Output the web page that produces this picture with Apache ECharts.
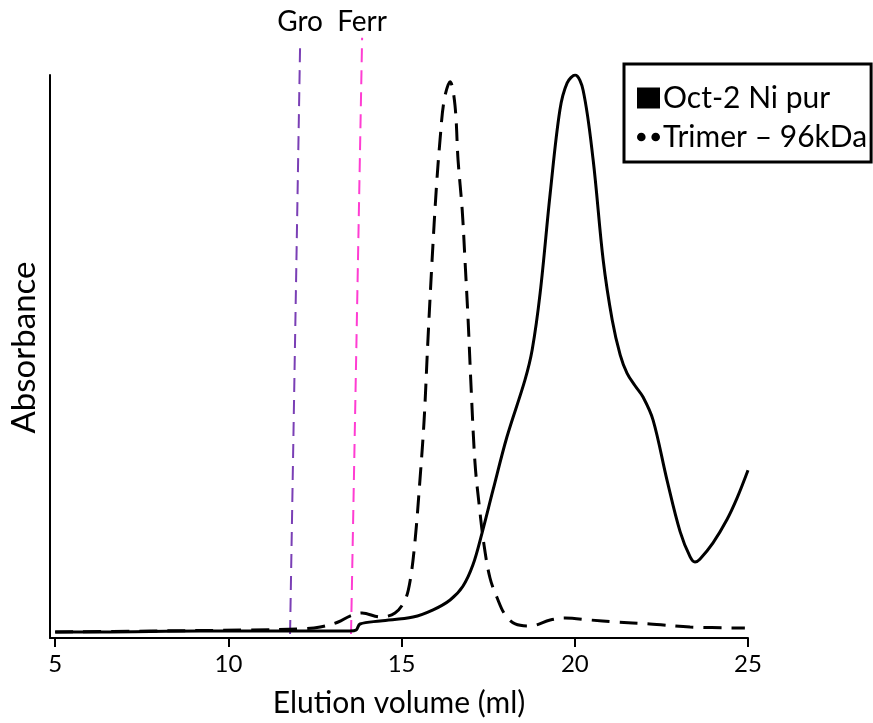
<!DOCTYPE html>
<html><head><meta charset="utf-8">
<script src="https://cdn.jsdelivr.net/npm/echarts@6/dist/echarts.min.js"></script>
<style>html,body{margin:0;padding:0;background:#fff}#c{width:873px;height:723px}</style>
</head><body><div id="c"></div>
<script>
const xTicks = [5, 10, 15, 20, 25];
const seriesNames = ['Oct-2 Ni pur', 'Trimer \u2013 96kDa'];
const octVolume = [5.0, 6.3, 9.18, 12.07, 13.51, 13.69, 13.8, 14.38, 15.33, 15.91, 16.4, 16.77, 17.06, 17.32, 17.64, 18.04, 18.56, 18.77, 19.0, 19.29, 19.57, 19.78, 20.01, 20.24, 20.53, 20.82, 21.08, 21.31, 21.51, 21.74, 21.97, 22.26, 22.66, 23.04, 23.33, 23.47, 23.61, 23.99, 24.39, 24.68, 25.0];
const octAbs = [1.07, 1.07, 1.24, 1.24, 1.24, 1.42, 2.49, 3.02, 3.73, 5.0, 6.75, 9.2, 13.0, 18.6, 26.3, 35.7, 45.8, 51.2, 61.3, 79.0, 93.8, 98.6, 100, 97.3, 84.9, 67.1, 56.5, 50.3, 47.0, 44.8, 42.8, 38.7, 28.1, 18.9, 14.4, 13.5, 14.0, 16.9, 21.0, 24.8, 29.8];
const trimerVolume = [5.0, 7.74, 10.63, 12.07, 12.65, 13.17, 13.51, 13.86, 14.38, 14.81, 15.1, 15.25, 15.39, 15.53, 15.65, 15.76, 15.88, 16.0, 16.11, 16.23, 16.4, 16.54, 16.63, 16.75, 16.83, 16.92, 17.01, 17.12, 17.24, 17.38, 17.55, 17.76, 17.99, 18.28, 18.71, 19.29, 19.72, 20.44, 21.16, 22.17, 23.33, 24.91];
const trimerAbs = [1.07, 1.24, 1.42, 1.6, 1.95, 2.84, 3.9, 4.44, 3.73, 4.44, 6.75, 10.3, 17.4, 28.1, 38.7, 52.9, 67.1, 79.6, 88.5, 95.6, 98.8, 94.7, 84.9, 76.0, 67.1, 56.5, 44.0, 31.0, 23.6, 16.5, 10.7, 7.1, 4.1, 2.49, 2.13, 3.2, 3.55, 3.2, 2.84, 2.49, 1.95, 1.78];
const markerNames = ['Gro', 'Ferr'];
const markerColors = ['#7A3FB5', '#FF3DD2'];
const markerBottomVolume = [11.78, 13.54];
const markerTopVolume = [12.07, 13.86];
const markerBottomAbs = [0.7, 0.7];
const markerTopAbs = [105.3, 106.6];
const markerLabelGap = [9, 2];

const FONT = 'Lato';
const zip = (a, b) => a.map((v, i) => [v, b[i]]);

const markerSeries = markerNames.map((n, i) => ({
  type: 'line', name: n, silent: true, clip: false, z: 1,
  symbol: 'circle', symbolSize: 0.01, showSymbol: true,
  lineStyle: { color: markerColors[i], width: 2, type: [14, 8] },
  itemStyle: { color: markerColors[i] },
  data: [
    [markerBottomVolume[i], markerBottomAbs[i]],
    { value: [markerTopVolume[i], markerTopAbs[i]],
      label: { show: true, position: 'top', distance: markerLabelGap[i], formatter: n, color: '#000', fontSize: 28, fontFamily: FONT } }
  ]
}));

const chart = echarts.init(document.getElementById('c'), null, { renderer: 'canvas' });
chart.setOption({
  animation: false,
  backgroundColor: '#fff',
  grid: { left: 50, right: 125, top: 75, bottom: 85 },
  xAxis: {
    type: 'value', min: 4.85, max: 25,
    name: 'Elution volume (ml)', nameLocation: 'middle', nameGap: 50,
    nameTextStyle: { fontSize: 30, fontFamily: FONT, color: '#000' },
    axisLine: { show: true, lineStyle: { color: '#000', width: 2 } },
    axisTick: { show: true, customValues: xTicks, length: 9, lineStyle: { color: '#000', width: 2 } },
    axisLabel: { customValues: xTicks, fontSize: 24, fontFamily: FONT, color: '#000', margin: 14 },
    splitLine: { show: false }
  },
  yAxis: {
    type: 'value', min: 0, max: 100,
    name: 'Absorbance', nameLocation: 'middle', nameGap: 9,
    nameTextStyle: { fontSize: 33, fontFamily: FONT, color: '#000', padding: [0, 0, 0, 18] },
    axisLine: { show: true, lineStyle: { color: '#000', width: 2 } },
    axisTick: { show: false }, axisLabel: { show: false }, splitLine: { show: false }
  },
  legend: {
    orient: 'vertical', left: 624, top: 64,
    data: [
      { name: seriesNames[0], icon: 'rect' },
      { name: seriesNames[1], icon: 'path://M0,3a3,3 0 1,0 6,0a3,3 0 1,0 -6,0zM10,3a3,3 0 1,0 6,0a3,3 0 1,0 -6,0z' }
    ],
    itemWidth: 23, itemHeight: 21, itemGap: 9,
    itemStyle: { borderWidth: 0 },
    borderColor: '#000', borderWidth: 3, borderRadius: 0,
    padding: [19, 4, 10, 13],
    textStyle: { fontSize: 30, fontFamily: FONT, color: '#000', padding: [0, 0, 0, -2] }
  },
  series: [
    ...markerSeries,
    {
      type: 'line', name: seriesNames[0], showSymbol: false, smooth: 0.35, z: 3,
      lineStyle: { color: '#000', width: 3 }, itemStyle: { color: '#000' },
      data: zip(octVolume, octAbs)
    },
    {
      type: 'line', name: seriesNames[1], showSymbol: false, smooth: 0.35, z: 2,
      lineStyle: { color: '#000', width: 3, type: [18, 10] }, itemStyle: { color: '#000' },
      data: zip(trimerVolume, trimerAbs)
    }
  ]
});
</script></body></html>
